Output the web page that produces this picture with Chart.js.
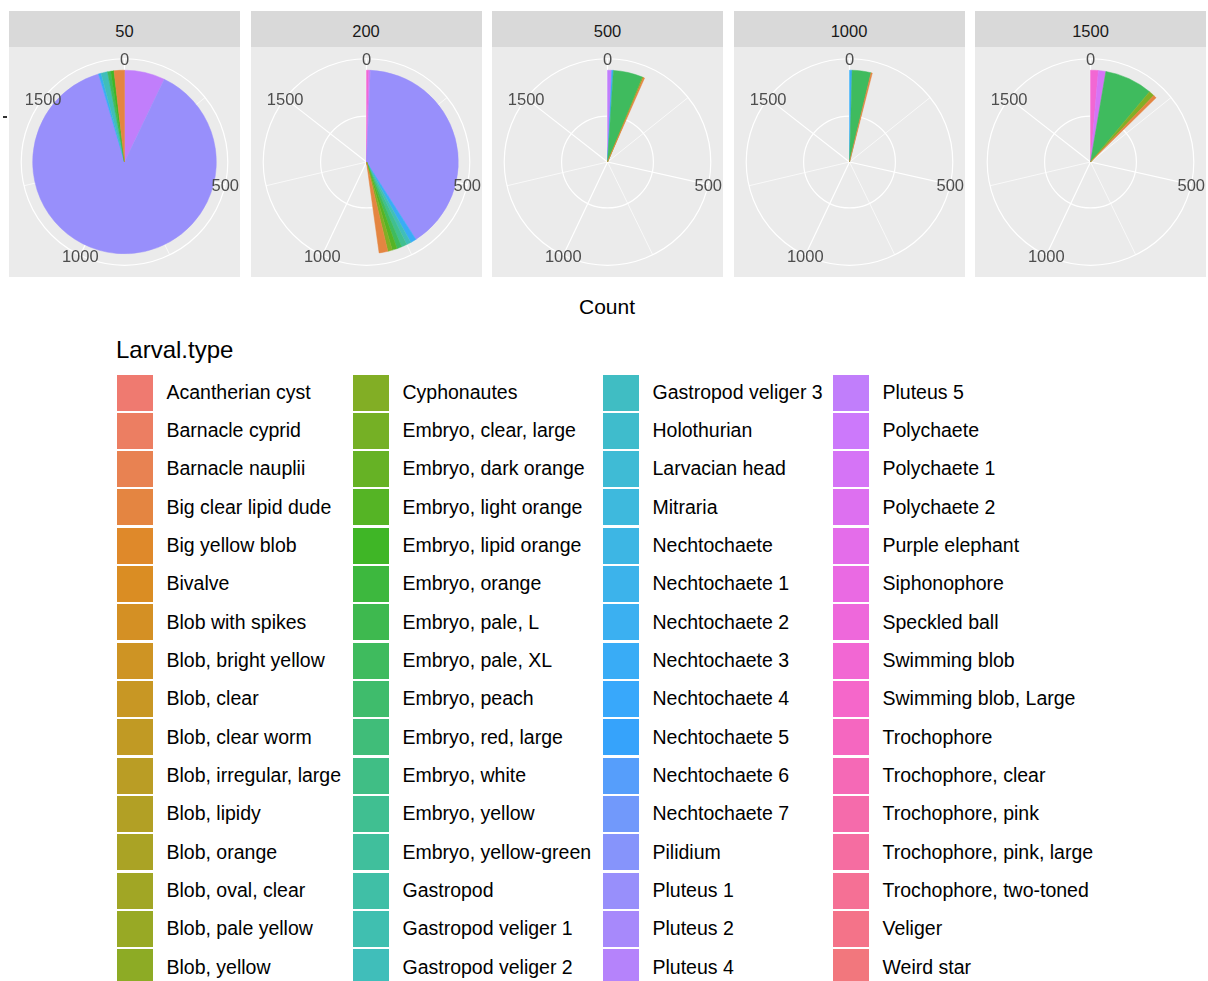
<!DOCTYPE html>
<html>
<head>
<meta charset="utf-8">
<script src="https://cdn.jsdelivr.net/npm/chart.js@4.4.1/dist/chart.umd.min.js"></script>
<style>
  html, body { margin: 0; padding: 0; background: #fff; }
  body { width: 1208px; height: 981px; position: relative; overflow: hidden;
         font-family: Arial, "Liberation Sans", sans-serif; }
  .strip { position: absolute; top: 11px; height: 34px; padding-top: 2px; width: 231px; background: #D9D9D9;
           color: #1A1A1A; font-size: 16.5px; line-height: 36px; text-align: center; }
  .panel { position: absolute; top: 47px; width: 231px; height: 230px; background: #EBEBEB; }
  .panel canvas { display: block; }
  #ytick { position: absolute; left: 3px; top: 116px; width: 4px; height: 1.5px; background: #333; }
  #xtitle { position: absolute; top: 296px; left: 0; width: 1214px; text-align: center;
            font-size: 21px; line-height: 21px; color: #000; }
  #legTitle { position: absolute; top: 338px; left: 116px; font-size: 24px; line-height: 24px; color: #000; }
  .key { position: absolute; width: 36px; height: 36px; }
  .lab { position: absolute; font-size: 19.5px; line-height: 19.5px; color: #000; white-space: nowrap; }
</style>
</head>
<body>
<div id="ytick"></div>
<div id="xtitle">Count</div>
<div id="legTitle">Larval.type</div>
<script>
// factor levels of Larval.type, in legend order
const larvalTypes = [
  'Acantherian cyst', 'Barnacle cyprid', 'Barnacle nauplii', 'Big clear lipid dude',
  'Big yellow blob', 'Bivalve', 'Blob with spikes', 'Blob, bright yellow',
  'Blob, clear', 'Blob, clear worm', 'Blob, irregular, large', 'Blob, lipidy',
  'Blob, orange', 'Blob, oval, clear', 'Blob, pale yellow', 'Blob, yellow',
  'Cyphonautes', 'Embryo, clear, large', 'Embryo, dark orange', 'Embryo, light orange',
  'Embryo, lipid orange', 'Embryo, orange', 'Embryo, pale, L', 'Embryo, pale, XL',
  'Embryo, peach', 'Embryo, red, large', 'Embryo, white', 'Embryo, yellow',
  'Embryo, yellow-green', 'Gastropod', 'Gastropod veliger 1', 'Gastropod veliger 2',
  'Gastropod veliger 3', 'Holothurian', 'Larvacian head', 'Mitraria',
  'Nechtochaete', 'Nechtochaete 1', 'Nechtochaete 2', 'Nechtochaete 3',
  'Nechtochaete 4', 'Nechtochaete 5', 'Nechtochaete 6', 'Nechtochaete 7',
  'Pilidium', 'Pluteus 1', 'Pluteus 2', 'Pluteus 4',
  'Pluteus 5', 'Polychaete', 'Polychaete 1', 'Polychaete 2',
  'Purple elephant', 'Siphonophore', 'Speckled ball', 'Swimming blob',
  'Swimming blob, Large', 'Trochophore', 'Trochophore, clear', 'Trochophore, pink',
  'Trochophore, pink, large', 'Trochophore, two-toned', 'Veliger', 'Weird star'
];

// facet labels (depth)
const facets = ['50', '200', '500', '1000', '1500'];

// counts per facet (only types that were found)
const types50 = ['Big clear lipid dude', 'Embryo, lipid orange', 'Embryo, pale, XL', 'Gastropod veliger 2', 'Nechtochaete 3', 'Pluteus 1', 'Pluteus 5'];
const counts50 = [32, 10, 10, 20, 8, 1548, 125];

const types200 = ['Big clear lipid dude', 'Cyphonautes', 'Embryo, light orange', 'Embryo, pale, XL', 'Embryo, yellow', 'Gastropod veliger 2', 'Nechtochaete 3', 'Pluteus 1', 'Polychaete 1', 'Swimming blob'];
const counts200 = [27, 14, 15, 15, 17, 14, 18, 706, 5, 7];

const types500 = ['Big clear lipid dude', 'Cyphonautes', 'Embryo, pale, XL', 'Nechtochaete 3', 'Pluteus 5'];
const counts500 = [4, 3, 91, 5, 13];

const types1000 = ['Big clear lipid dude', 'Embryo, pale, XL', 'Nechtochaete 3'];
const counts1000 = [4, 58, 8];

const types1500 = ['Big clear lipid dude', 'Cyphonautes', 'Embryo, pale, XL', 'Polychaete 1', 'Swimming blob'];
const counts1500 = [10, 17, 148, 23, 24];

// theta axis breaks
const majorBreaks = [0, 500, 1000, 1500];
const minorBreaks = [250, 750, 1250];

const facetTypes = [types50, types200, types500, types1000, types1500];
const facetCounts = [counts50, counts200, counts500, counts1000, counts1500];

// hcl() -> linear rgb (polarLUV, D65 white), clipped to gamut
function hclLinear(h, c, l) {
    const hr = h * Math.PI / 180;
    const U = c * Math.cos(hr), V = c * Math.sin(hr);
    const XN = 95.047, YN = 100.0, ZN = 108.883;
    const Y = l > 7.999592 ? YN * Math.pow((l + 16) / 116, 3) : YN * l / 903.3;
    const t = XN + YN + ZN;
    const x = XN / t, y = YN / t;
    const uN = 2 * x / (6 * y - x + 1.5);
    const vN = 4.5 * y / (6 * y - x + 1.5);
    const u = U / (13 * l) + uN;
    const v = V / (13 * l) + vN;
    const X = 9.0 * Y * u / (4 * v);
    const Z = -X / 3 - 5 * Y + 3 * Y / v;
    const clip = a => Math.min(1, Math.max(0, a));
    return [
        clip(( 3.240479 * X - 1.537150 * Y - 0.498535 * Z) / YN),
        clip((-0.969256 * X + 1.875992 * Y + 0.041556 * Z) / YN),
        clip(( 0.055648 * X - 0.204043 * Y + 1.057311 * Z) / YN)
    ];
}

// soften the palette a little (partial wide-gamut remap), then encode as hex
const soften = 0.55;
const wideGamut = [
    [0.8225, 0.1774, 0.0000],
    [0.0332, 0.9669, 0.0000],
    [0.0171, 0.0724, 0.9108]
];
function toHex(lin) {
    const mixed = wideGamut.map((row, i) =>
        (1 - soften) * lin[i] + soften * (row[0] * lin[0] + row[1] * lin[1] + row[2] * lin[2]));
    const enc = a => a > 0.0031308 ? 1.055 * Math.pow(a, 1 / 2.4) - 0.055 : 12.92 * a;
    return '#' + mixed.map(a => {
        const n = Math.round(Math.min(1, Math.max(0, enc(a))) * 255);
        return n.toString(16).padStart(2, '0');
    }).join('').toUpperCase();
}

// evenly spaced hues, one per type
const typeColors = larvalTypes.map((_, i) => toHex(hclLinear(15 + i * 360 / larvalTypes.length, 100, 65)));

// full turn = largest stacked total
const totals = facetCounts.map(arr => arr.reduce((s, v) => s + v, 0));
const thetaMax = Math.max(...totals);

// grid + theta labels drawn around the pie
const polarGrid = {
    id: 'polarGrid',
    beforeDatasetsDraw(chart) {
        const arc = chart.getDatasetMeta(0).data[0];
        const ctx = chart.ctx;
        const cx = arc.x, cy = arc.y, r = arc.outerRadius;
        const rOuter = r * 0.45 / 0.4;
        ctx.save();
        ctx.strokeStyle = '#FFFFFF';
        // radial lines
        const spoke = (v, w) => {
            const a = v / thetaMax * Math.PI * 2;
            ctx.lineWidth = w;
            ctx.beginPath();
            ctx.moveTo(cx, cy);
            ctx.lineTo(cx + rOuter * Math.sin(a), cy - rOuter * Math.cos(a));
            ctx.stroke();
        };
        minorBreaks.forEach(v => spoke(v, 0.7));
        majorBreaks.forEach(v => spoke(v, 1.2));
        // circles: category position and outer ring
        ctx.lineWidth = 1.2;
        [r * 0.5, rOuter].forEach(rr => {
            ctx.beginPath();
            ctx.arc(cx, cy, rr, 0, Math.PI * 2);
            ctx.stroke();
        });
        ctx.restore();
    },
    afterDatasetsDraw(chart) {
        const arc = chart.getDatasetMeta(0).data[0];
        const ctx = chart.ctx;
        const cx = arc.x, cy = arc.y;
        const rOuter = arc.outerRadius * 0.45 / 0.4;
        ctx.save();
        ctx.fillStyle = '#4D4D4D';
        ctx.font = '16.5px Arial, "Liberation Sans", sans-serif';
        ctx.textAlign = 'center';
        ctx.textBaseline = 'middle';
        majorBreaks.forEach(v => {
            const a = v / thetaMax * Math.PI * 2;
            ctx.fillText(String(v), cx + rOuter * Math.sin(a), cy - rOuter * Math.cos(a) + 2);
        });
        ctx.restore();
    }
};

facets.forEach((facet, k) => {
    const left = 9 + k * 241.5;

    const strip = document.createElement('div');
    strip.className = 'strip';
    strip.style.left = left + 'px';
    strip.textContent = facet;
    document.body.appendChild(strip);

    const panel = document.createElement('div');
    panel.className = 'panel';
    panel.style.left = left + 'px';
    const canvas = document.createElement('canvas');
    canvas.width = 231;
    canvas.height = 230;
    panel.appendChild(canvas);
    document.body.appendChild(panel);

    // stack order: last level starts at 0, going clockwise
    const idx = facetTypes[k].map(t => larvalTypes.indexOf(t));
    const order = idx.map((_, j) => j).sort((a, b) => idx[b] - idx[a]);
    const labels = order.map(j => facetTypes[k][j]);
    const data = order.map(j => facetCounts[k][j]);
    const colors = order.map(j => typeColors[idx[j]]);
    // empty remainder of the turn
    labels.push('');
    data.push(thetaMax - totals[k]);
    colors.push('rgba(0,0,0,0)');

    new Chart(canvas, {
        type: 'doughnut',
        data: {
            labels: labels,
            datasets: [{
                data: data,
                backgroundColor: colors,
                borderColor: colors,
                borderWidth: 0.5,
                hoverOffset: 0,
                hoverBorderWidth: 0
            }]
        },
        options: {
            responsive: false,
            animation: false,
            events: [],
            cutout: 0,
            radius: '80%',
            rotation: 0,
            layout: { padding: 0 },
            plugins: { legend: { display: false }, tooltip: { enabled: false } }
        },
        plugins: [polarGrid]
    });
});

// legend: 16 rows, filled column by column
const legendCols = [117, 353, 603, 833];
const legendRows = 16;
larvalTypes.forEach((name, i) => {
    const col = Math.floor(i / legendRows), row = i % legendRows;
    const yMid = 392.5 + row * 38.33;
    const key = document.createElement('div');
    key.className = 'key';
    key.style.left = legendCols[col] + 'px';
    key.style.top = (yMid - 18) + 'px';
    key.style.background = typeColors[i];
    document.body.appendChild(key);
    const lab = document.createElement('div');
    lab.className = 'lab';
    lab.style.left = (legendCols[col] + 49.5) + 'px';
    lab.style.top = (yMid - 9.75) + 'px';
    lab.textContent = name;
    document.body.appendChild(lab);
});
</script>
</body>
</html>
